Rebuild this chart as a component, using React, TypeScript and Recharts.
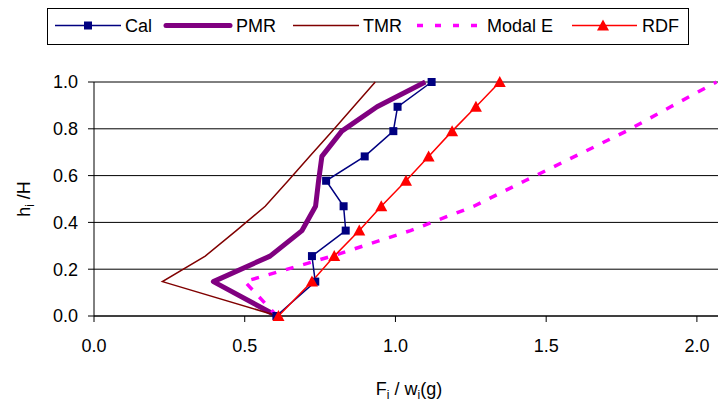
import { LineChart, Line, XAxis, YAxis, CartesianGrid } from "recharts";

// storey levels h_i/H (shared by every series)
const levels = [0, 0.147, 0.256, 0.365, 0.469, 0.578, 0.682, 0.79, 0.894, 1.0];

// F_i / w_i(g) for each series, bottom to top
const calValues = [0.605, 0.734, 0.723, 0.835, 0.828, 0.77, 0.898, 0.993, 1.007, 1.12];
const pmrValues = [0.607, 0.396, 0.584, 0.69, 0.735, 0.745, 0.756, 0.822, 0.939, 1.099];
const tmrValues = [0.61, 0.227, 0.369, 0.472, 0.568, 0.644, 0.715, 0.79, 0.861, 0.933];
const modalEValues = [0.607, 0.5, 0.79, 1.05, 1.26, 1.43, 1.595, 1.766, 1.913, 2.065];
const rdfValues = [0.612, 0.723, 0.797, 0.88, 0.953, 1.035, 1.11, 1.188, 1.267, 1.346];

const xTicks = [0, 0.5, 1, 1.5, 2];
const yTicks = [0, 0.2, 0.4, 0.6, 0.8, 1];

const toPoints = (vals: number[]) => vals.map((f, i) => ({ f, h: levels[i] }));

const FONT = '"Liberation Sans", Arial, sans-serif';

const squareDot = (props: any) => {
  const { cx, cy, index } = props;
  return <rect key={`sq-${index}`} x={cx - 4} y={cy - 4} width={8} height={8} fill="#000080" />;
};

const triangleDot = (props: any) => {
  const { cx, cy, index } = props;
  return (
    <polygon
      key={`tr-${index}`}
      points={`${cx},${cy - 6} ${cx + 6},${cy + 5} ${cx - 6},${cy + 5}`}
      fill="#FF0000"
    />
  );
};

function LegendBox() {
  const y = 25.5;
  return (
    <svg
      width={719}
      height={50}
      style={{ position: "absolute", left: 0, top: 0, fontFamily: FONT }}
    >
      <rect x={47.5} y={8.5} width={641} height={36} fill="#fff" stroke="#000" />
      {/* Cal */}
      <line x1={55} x2={121} y1={y} y2={y} stroke="#000080" strokeWidth={1.5} />
      <rect x={84} y={y - 4} width={8} height={8} fill="#000080" />
      <text x={125} y={31.5} fontSize={18}>Cal</text>
      {/* PMR */}
      <line x1={166} x2={230} y1={y} y2={y} stroke="#800080" strokeWidth={5} strokeLinecap="round" />
      <text x={236} y={31.5} fontSize={18}>PMR</text>
      {/* TMR */}
      <line x1={293} x2={359} y1={y} y2={y} stroke="#800000" strokeWidth={1.5} />
      <text x={363} y={31.5} fontSize={18}>TMR</text>
      {/* Modal E */}
      <line x1={417} x2={482} y1={y} y2={y} stroke="#FF00FF" strokeWidth={3.5} strokeDasharray="6 12" />
      <text x={487} y={31.5} fontSize={18}>Modal E</text>
      {/* RDF */}
      <line x1={572} x2={637} y1={y} y2={y} stroke="#FF0000" strokeWidth={1.5} />
      <polygon points={`603,${y - 6} 609,${y + 5} 597,${y + 5}`} fill="#FF0000" />
      <text x={642} y={31.5} fontSize={18}>RDF</text>
    </svg>
  );
}

export default function App() {
  return (
    <div style={{ position: "absolute", left: 0, top: 0, width: 719, height: 405, background: "#fff" }}>
      <LineChart
        width={719}
        height={405}
        margin={{ top: 82, right: 1, bottom: 0, left: 0 }}
        style={{ fontFamily: FONT }}
      >
        <CartesianGrid vertical={false} stroke="#000" horizontalValues={yTicks} />
        <XAxis
          dataKey="f"
          type="number"
          domain={[0, 2.07]}
          ticks={xTicks}
          allowDataOverflow
          tickFormatter={(v: number) => v.toFixed(1)}
          height={89}
          stroke="#000"
          tickSize={6}
          tickMargin={17}
          tick={{ fill: "#000", fontSize: 18 }}
          label={{
            content: () => (
              <text x={409} y={395} textAnchor="middle" fontSize={18} fill="#000" fontFamily={FONT}>
                F<tspan fontSize={12} dy={4}>i</tspan>
                <tspan dy={-4}> / w</tspan>
                <tspan fontSize={12} dy={4}>i</tspan>
                <tspan dy={-4}>(g)</tspan>
              </text>
            ),
          }}
        />
        <YAxis
          dataKey="h"
          type="number"
          domain={[0, 1]}
          ticks={yTicks}
          tickFormatter={(v: number) => v.toFixed(1)}
          width={94}
          stroke="#000"
          tickSize={6}
          tickMargin={10}
          tick={{ fill: "#000", fontSize: 18 }}
          label={{
            content: () => (
              <text
                x={24}
                y={205}
                transform="rotate(-90, 24, 199)"
                textAnchor="middle"
                fontSize={18}
                fill="#000"
                fontFamily={FONT}
              >
                h<tspan fontSize={12} dy={4}>i</tspan>
                <tspan dy={-4}> /H</tspan>
              </text>
            ),
          }}
        />
        <Line
          data={toPoints(pmrValues)}
          dataKey="h"
          type="linear"
          stroke="#800080"
          strokeWidth={5}
          strokeLinejoin="round"
          dot={false}
          isAnimationActive={false}
        />
        <Line
          data={toPoints(tmrValues)}
          dataKey="h"
          type="linear"
          stroke="#800000"
          strokeWidth={1.5}
          dot={false}
          isAnimationActive={false}
        />
        <Line
          data={toPoints(modalEValues)}
          dataKey="h"
          type="linear"
          stroke="#FF00FF"
          strokeWidth={3.5}
          strokeDasharray="8 10"
          dot={false}
          isAnimationActive={false}
        />
        <Line
          data={toPoints(calValues)}
          dataKey="h"
          type="linear"
          stroke="#000080"
          strokeWidth={1.5}
          dot={squareDot}
          isAnimationActive={false}
        />
        <Line
          data={toPoints(rdfValues)}
          dataKey="h"
          type="linear"
          stroke="#FF0000"
          strokeWidth={1.5}
          dot={triangleDot}
          isAnimationActive={false}
        />
      </LineChart>
      <LegendBox />
    </div>
  );
}
